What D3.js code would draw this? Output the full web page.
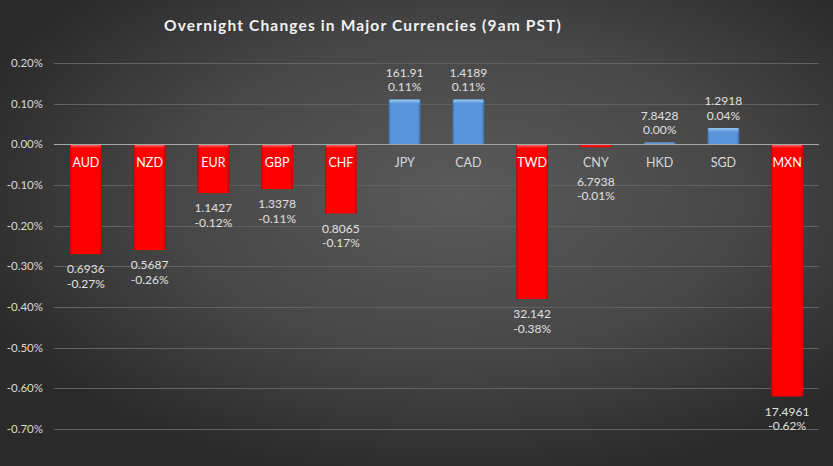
<!DOCTYPE html>
<html>
<head>
<meta charset="utf-8">
<script src="https://cdn.jsdelivr.net/npm/d3@7/dist/d3.min.js"></script>
<style>
  body { margin: 0; background: #2b2b2b; }
  svg { display: block; font-family: Lato, "Open Sans", sans-serif; }
</style>
</head>
<body>
<div id="chart"></div>
<script>
// data
const currencies = ["AUD", "NZD", "EUR", "GBP", "CHF", "JPY", "CAD", "TWD", "CNY", "HKD", "SGD", "MXN"];
const changes = [-0.27, -0.26, -0.12, -0.11, -0.17, 0.11, 0.11, -0.38, -0.007, 0.004, 0.04, -0.62]; // percent
const rates = ["0.6936", "0.5687", "1.1427", "1.3378", "0.8065", "161.91", "1.4189", "32.142", "6.7938", "7.8428", "1.2918", "17.4961"];
const yTicks = [0.2, 0.1, 0, -0.1, -0.2, -0.3, -0.4, -0.5, -0.6, -0.7];

const W = 833, H = 466;
const margin = {top: 63, right: 14, bottom: 37, left: 54};

const loc = d3.formatLocale({decimal: ".", thousands: ",", grouping: [3], currency: ["$", ""], minus: "-"});
const pct = v => loc.format(".2f")(v) + "%";

const svg = d3.select("#chart").append("svg").attr("width", W).attr("height", H);
const defs = svg.append("defs");

const bg = defs.append("radialGradient").attr("id", "bg")
  .attr("cx", "55%").attr("cy", "42%").attr("r", "62%");
bg.append("stop").attr("offset", "0%").attr("stop-color", "#5a5a5a");
bg.append("stop").attr("offset", "55%").attr("stop-color", "#474747");
bg.append("stop").attr("offset", "100%").attr("stop-color", "#2a2a2a");
svg.append("rect").attr("width", W).attr("height", H).attr("fill", "url(#bg)");

// bevel gradients
function bevel(id, light, base, dark) {
  const g = defs.append("linearGradient").attr("id", id).attr("x1", 0).attr("x2", 1).attr("y1", 0).attr("y2", 0);
  g.append("stop").attr("offset", "0%").attr("stop-color", dark);
  g.append("stop").attr("offset", "8%").attr("stop-color", base);
  g.append("stop").attr("offset", "90%").attr("stop-color", base);
  g.append("stop").attr("offset", "100%").attr("stop-color", dark);
  const t = defs.append("linearGradient").attr("id", id + "Top").attr("x1", 0).attr("x2", 0).attr("y1", 0).attr("y2", 1);
  t.append("stop").attr("offset", "0%").attr("stop-color", light);
  t.append("stop").attr("offset", "100%").attr("stop-color", base);
}
bevel("red", "#ff7a7a", "#ff0000", "#c80000");
bevel("blue", "#9cc8f2", "#5b96dd", "#3f6fa8");

const x = d3.scaleBand().domain(currencies).range([margin.left, W - margin.right]).paddingInner(0.5).paddingOuter(0.25);
const y = d3.scaleLinear().domain([-0.7, 0.2]).range([H - margin.bottom, margin.top]);

// gridlines
svg.append("g").selectAll("line").data(yTicks.filter(d => d !== 0)).join("line")
  .attr("x1", margin.left).attr("x2", W - margin.right)
  .attr("y1", d => Math.round(y(d)) + 0.5).attr("y2", d => Math.round(y(d)) + 0.5)
  .attr("stroke", "#626262").attr("stroke-width", 1);

// y axis labels
svg.append("g").selectAll("text").data(yTicks).join("text")
  .attr("x", 43).attr("y", d => y(d)).attr("dy", "0.35em")
  .attr("text-anchor", "end").attr("fill", "#d9d9d9").attr("font-size", 11.5)
  .text(pct);

const data = currencies.map((c, i) => ({c, v: changes[i], r: rates[i]}));
const y0 = y(0);

const bars = svg.append("g").selectAll("g").data(data).join("g");
bars.append("rect")
  .attr("x", d => x(d.c)).attr("width", x.bandwidth())
  .attr("y", d => Math.min(y(d.v), y0)).attr("height", d => Math.max(1.5, Math.abs(y(d.v) - y0)))
  .attr("fill", d => d.v < 0 ? "url(#red)" : "url(#blue)");
bars.append("rect")
  .attr("x", d => x(d.c) + 1).attr("width", x.bandwidth() - 2)
  .attr("y", d => Math.min(y(d.v), y0))
  .attr("height", d => Math.min(4, Math.abs(y(d.v) - y0) * 0.5))
  .attr("fill", d => d.v < 0 ? "url(#redTop)" : "url(#blueTop)");

// zero line
svg.append("line").attr("x1", margin.left).attr("x2", W - margin.right)
  .attr("y1", Math.round(y0) + 0.5).attr("y2", Math.round(y0) + 0.5)
  .attr("stroke", "#a6a6a6").attr("stroke-width", 1);

// category labels
svg.append("g").selectAll("text").data(data).join("text")
  .attr("x", d => x(d.c) + x.bandwidth() / 2).attr("y", y0 + 18)
  .attr("dy", "0.35em").attr("text-anchor", "middle").attr("font-size", 12.5)
  .attr("fill", d => (d.v < -0.05) ? "#ffffff" : "#d9d9d9")
  .text(d => d.c);

// value labels
const vl = svg.append("g").selectAll("g").data(data).join("g")
  .attr("transform", d => {
    const cx = x(d.c) + x.bandwidth() / 2;
    if (d.v >= 0) return `translate(${cx},${y(d.v) - 27})`;
    return `translate(${cx},${Math.max(y(d.v) + 15, y0 + 37)})`;
  });
vl.append("text").attr("text-anchor", "middle").attr("dy", "0.35em")
  .attr("fill", "#e0e0e0").attr("font-size", 12).text(d => d.r);
vl.append("text").attr("text-anchor", "middle").attr("y", 14.5).attr("dy", "0.35em")
  .attr("fill", "#e0e0e0").attr("font-size", 12).text(d => pct(d.v));

// title
svg.append("text").attr("x", 363).attr("y", 26).attr("dy", "0.35em")
  .attr("text-anchor", "middle").attr("fill", "#f2f2f2").attr("font-size", 15.5)
  .attr("font-weight", "bold").attr("letter-spacing", 1.15)
  .text("Overnight Changes in Major Currencies (9am PST)");
</script>
</body>
</html>
